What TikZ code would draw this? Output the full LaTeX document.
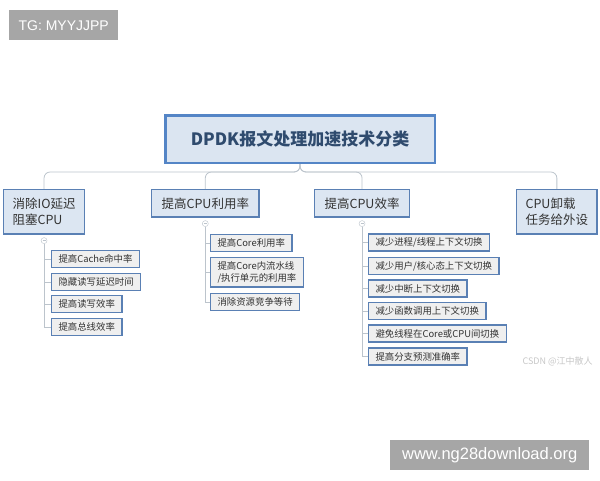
\documentclass[tikz,border=0pt]{standalone}
\usepackage{fontspec}
\setmainfont{Noto Sans CJK SC}
\newfontfamily\wmfont{Liberation Sans}
\usetikzlibrary{positioning}
\definecolor{rootblue}{HTML}{5485C6}
\definecolor{rootfill}{HTML}{DBE5F1}
\definecolor{roottext}{HTML}{2F4B6E}
\definecolor{boxblue}{HTML}{5A80B4}
\definecolor{catfill}{HTML}{DCE6F2}
\definecolor{itemfill}{HTML}{EFEFEF}
\definecolor{linegray}{HTML}{BCC4CC}
\definecolor{wmgray}{HTML}{A6A6A6}

\begin{document}
\begin{tikzpicture}[x=1pt,y=-1pt,
    topbox/.style={draw=rootblue,line width=2.5pt,fill=rootfill,minimum width=269.5pt,minimum height=47.5pt,
      font=\fontsize{17}{20}\selectfont\bfseries,text=roottext},
    catbox/.style={draw=boxblue,line width=1.6pt,fill=catfill,anchor=north west,align=left,inner xsep=9pt,
      font=\fontsize{12.5}{16}\selectfont,text=black!80},
    itembox/.style={draw=boxblue,line width=1.5pt,fill=itemfill,anchor=west,align=left,inner xsep=7pt,inner ysep=3pt,
      minimum height=17pt,font=\fontsize{9.4}{12}\selectfont,text=black!80},
    conn/.style={draw=linegray,line width=0.8pt},
    fold/.style={circle,draw=linegray,fill=white,inner sep=0pt,minimum size=6pt,
      path picture={\draw[linegray,line width=0.5pt] ([xshift=1.5pt]path picture bounding box.west) -- ([xshift=-1.5pt]path picture bounding box.east);}},
    wmbox/.style={fill=wmgray,text=white,inner sep=0pt,anchor=north west,font=\wmfont}]
  \useasboundingbox (0,0) rectangle (600,480);

  % root and first level
  \node[topbox] (root) at (300,139) {DPDK报文处理加速技术分类};
  \node[catbox,minimum height=44.5pt] (io) at (2.8,188.8) {消除IO延迟\\阻塞CPU};
  \node[catbox,minimum height=27.5pt,inner xsep=10pt] (use) at (150.8,188.8) {提高CPU利用率};
  \node[catbox,minimum height=27.5pt,inner xsep=10pt] (eff) at (313.8,188.8) {提高CPU效率};
  \node[catbox,minimum height=44.5pt] (off) at (515.8,188.8) {CPU卸载\\任务给外设};
  \foreach \c in {io,use,eff,off}
    \draw[conn,rounded corners=6pt] (root.south) -- ++(0,8) -| (\c.north);

  \node[fold,below=2.5pt of io] (fio) {};
  \node[fold,below=2.5pt of use] (fuse) {};
  \node[fold,below=2.5pt of eff] (feff) {};

  % second level
  \node[itembox] (io1) at (50.75,259) {提高Cache命中率};
  \node[itembox] (io2) at (50.75,282) {隐藏读写延迟时间};
  \node[itembox] (io3) at (50.75,304) {提高读写效率};
  \node[itembox] (io4) at (50.75,327) {提高总线效率};

  \node[itembox] (use1) at (209.75,243) {提高Core利用率};
  \node[itembox,minimum height=29.5pt] (use2) at (209.75,272) {提高Core内流水线\\/执行单元的利用率};
  \node[itembox] (use3) at (209.75,302) {消除资源竞争等待};

  \node[itembox] (eff1) at (367.75,242.5) {减少进程/线程上下文切换};
  \node[itembox] (eff2) at (367.75,266) {减少用户/核心态上下文切换};
  \node[itembox] (eff3) at (367.75,288.5) {减少中断上下文切换};
  \node[itembox] (eff4) at (367.75,311) {减少函数调用上下文切换};
  \node[itembox] (eff5) at (367.75,333.5) {避免线程在Core或CPU间切换};
  \node[itembox] (eff6) at (367.75,356.5) {提高分支预测准确率};

  \draw[conn] (fio.south) |- (io4.west);
  \foreach \i in {io1,io2,io3} \draw[conn] (fio |- \i.west) -- (\i.west);
  \draw[conn] (fuse.south) |- (use3.west);
  \foreach \i in {use1,use2} \draw[conn] (fuse |- \i.west) -- (\i.west);
  \draw[conn] (feff.south) |- (eff6.west);
  \foreach \i in {eff1,eff2,eff3,eff4,eff5} \draw[conn] (feff |- \i.west) -- (\i.west);

  % marks
  \node[anchor=west,text=black!22,font=\fontsize{9}{10}\selectfont] (csdn) at (519,361) {CSDN @江中散人};
  \node[wmbox,minimum width=109pt,minimum height=30pt,font=\wmfont\fontsize{14}{16}\selectfont] (tg) at (9,10) {TG: MYYJJPP};
  \node[wmbox,minimum width=199pt,minimum height=30pt,font=\wmfont\fontsize{16.5}{18}\selectfont] (site) at (390,440) {www.ng28download.org};
\end{tikzpicture}
\end{document}
